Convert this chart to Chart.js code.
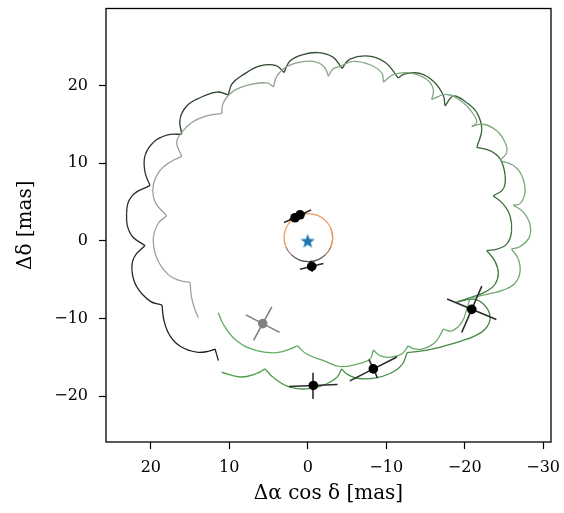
<!DOCTYPE html>
<html>
<head>
<meta charset="utf-8">
<script src="https://cdn.jsdelivr.net/npm/chart.js@4.4.1/dist/chart.umd.min.js"></script>
<style>
  html, body { margin: 0; padding: 0; background: #ffffff; }
  canvas { display: block; }
</style>
</head>
<body>
<canvas id="astro" width="564" height="513"></canvas>
<script>
// Axis tick values (mas)
const xTicks = [20, 10, 0, -10, -20, -30];
const yTicks = [-20, -10, 0, 10, 20];

// Background-track model 1 (dark): one row per parallax arc, cusp to cusp, [Δα cos δ, Δδ] in mas
const darkArcs = [
  [[11.39, -15.41], [11.62, -14.58], [11.81, -13.92]],
  [[11.81, -13.92], [12.58, -14.20], [14.15, -14.33], [16.15, -13.63], [17.55, -12.22], [18.31, -10.31], [18.57, -8.26]],
  [[18.57, -8.26], [20.10, -7.75], [21.76, -5.96], [22.39, -3.92], [22.14, -2.13], [20.74, -0.60]],
  [[20.74, -0.60], [22.52, 0.80], [23.09, 3.49], [22.39, 5.79], [20.10, 7.15]],
  [[20.10, 7.15], [20.74, 8.85], [20.74, 10.98], [19.68, 12.68], [17.97, 13.61], [16.06, 13.74]],
  [[16.06, 13.74], [16.28, 15.66], [15.42, 17.37], [13.73, 18.43], [11.60, 19.16], [10.12, 18.81]],
  [[10.12, 18.81], [9.65, 20.22], [8.25, 21.37], [6.08, 22.52], [4.04, 22.58], [3.02, 21.69]],
  [[3.02, 21.69], [2.26, 23.15], [0.60, 23.98], [-1.31, 24.24], [-3.22, 23.66], [-4.37, 22.20]],
  [[-4.37, 22.20], [-5.39, 23.41], [-7.81, 23.79], [-9.98, 22.90], [-11.51, 20.98]],
  [[-11.51, 20.98], [-12.40, 21.49], [-14.31, 21.56], [-16.10, 20.47], [-17.24, 18.81], [-17.50, 17.37]],
  [[-17.50, 17.37], [-18.56, 18.65], [-20.26, 17.79], [-21.54, 16.51], [-22.18, 14.38], [-21.54, 12.04]],
  [[-21.54, 12.04], [-23.23, 11.62], [-24.51, 10.55], [-25.15, 8.43], [-24.93, 6.72], [-23.65, 5.79]],
  [[-23.65, 5.79], [-24.89, 4.76], [-25.78, 3.23], [-25.97, 1.19], [-25.40, -0.34], [-24.13, -1.05], [-22.81, -1.24]],
  [[-22.81, -1.24], [-23.87, -2.64], [-24.29, -4.18], [-23.87, -5.58], [-22.81, -6.47], [-21.54, -7.02], [-18.99, -7.88]],
  [[-18.99, -7.88], [-21.32, -7.53], [-22.81, -8.61], [-23.23, -10.09], [-22.60, -11.37], [-21.32, -12.22], [-19.63, -12.86], [-17.50, -13.50], [-15.80, -13.92], [-14.31, -14.20], [-12.66, -14.39]],
  [[-12.66, -14.39], [-12.02, -15.93], [-10.49, -17.07], [-8.32, -17.71], [-6.16, -17.65], [-4.88, -17.07], [-4.33, -16.47]],
  [[-4.33, -16.47], [-3.70, -17.59], [-2.42, -18.39], [-0.29, -19.03], [2.26, -18.82], [4.38, -17.59], [5.44, -16.47]],
  [[5.44, -16.47], [6.50, -17.07], [8.63, -17.52], [10.96, -16.91]]
];

// Background-track model 2 (light)
const lightArcs = [
  [[13.94, -9.88], [14.36, -8.90], [14.81, -7.24], [15.00, -5.33]],
  [[15.00, -5.33], [16.28, -5.11], [17.77, -4.34], [19.21, -2.26], [19.68, 0.29], [19.08, 2.21], [17.97, 3.23]],
  [[17.97, 3.23], [19.46, 5.02], [19.68, 7.15], [18.82, 9.07], [17.55, 10.13], [16.06, 10.89]],
  [[16.06, 10.89], [16.70, 12.68], [16.06, 13.96], [14.78, 15.24], [12.87, 16.09], [10.96, 16.42]],
  [[10.96, 16.42], [10.76, 17.79], [9.48, 19.28], [7.35, 20.13], [5.23, 20.34], [4.38, 19.83]],
  [[4.38, 19.83], [3.91, 21.24], [2.64, 22.45], [0.60, 23.09], [-1.31, 22.96], [-2.20, 22.26], [-2.63, 21.20]],
  [[-2.63, 21.20], [-3.22, 22.13], [-4.12, 22.48], [-5.81, 23.12], [-7.94, 22.68], [-9.43, 21.62], [-9.64, 20.43]],
  [[-9.64, 20.43], [-10.91, 21.40], [-13.04, 21.62], [-15.17, 20.77], [-16.01, 19.49], [-15.80, 18.21]],
  [[-15.80, 18.21], [-17.72, 18.85], [-19.83, 17.79], [-21.11, 16.30], [-21.54, 15.24], [-20.90, 14.72]],
  [[-20.90, 14.72], [-22.38, 15.02], [-24.09, 14.18], [-25.15, 12.68], [-25.36, 11.40], [-24.51, 10.34]],
  [[-24.51, 10.34], [-26.20, 9.71], [-27.27, 8.43], [-27.69, 6.30], [-27.06, 4.80], [-26.20, 4.60]],
  [[-26.20, 4.60], [-27.44, 3.74], [-28.33, 2.08], [-28.20, 0.42], [-27.06, -0.73], [-25.97, -1.05]],
  [[-25.97, -1.05], [-26.80, -2.26], [-27.06, -3.92], [-26.42, -5.45], [-24.89, -6.35], [-23.23, -6.79], [-20.69, -7.37]],
  [[-20.69, -7.37], [-20.30, -8.65], [-19.67, -10.43], [-18.39, -11.58], [-17.28, -11.37]],
  [[-17.28, -11.37], [-16.22, -13.08], [-14.53, -13.92], [-13.29, -13.82], [-12.82, -13.50]],
  [[-12.82, -13.50], [-12.02, -14.52], [-10.62, -14.97], [-9.21, -14.78], [-8.36, -14.05]],
  [[-8.36, -14.05], [-7.94, -15.20], [-6.25, -15.86], [-4.12, -16.18], [-1.99, -15.41], [0.13, -14.56], [1.33, -13.50]],
  [[1.33, -13.50], [2.26, -13.92], [3.95, -14.39], [6.50, -14.14], [9.05, -12.86], [10.76, -10.73], [11.39, -9.25]]
];

// Bound orbit around the host star
const orbitRing = [
  [-2.94, -0.77], [-3.18, 0.42], [-2.94, 1.61], [-2.27, 2.61], [-1.27, 3.28], [-0.08, 3.52],
  [1.11, 3.28], [2.11, 2.61], [2.78, 1.61], [3.02, 0.42], [2.78, -0.77], [2.11, -1.77],
  [1.11, -2.44], [-0.08, -2.68], [-1.27, -2.44], [-2.27, -1.77], [-2.94, -0.77], [-3.18, 0.42], [-2.94, 1.61]
];

// Host star
const hostStar = [[0, 0]];

// Measured companion positions and their error-ellipse half axes (mas)
const detections = [[-20.90, -8.81], [-8.36, -16.48], [-0.71, -18.61], [-0.51, -3.28], [1.62, 2.98], [0.98, 3.36]];
const detMajor = [[3.14, 1.32], [3.01, -1.54], [3.09, -0.13], [1.49, -0.36], [1.40, -0.62], [1.40, -0.62]];
const detMinor = [[-1.28, 2.98], [0.55, 1.20], [0.04, 1.63], [0.06, 0.70], [0.12, 0.35], [0.12, 0.35]];

// Earlier epoch, shown in grey
const archival = [[5.74, -10.65]];
const archMajor = [[2.16, 1.13]];
const archMinor = [[-1.16, 2.17]];

// ---- drawing helpers ----
const toPts = rows => rows.map(p => ({ x: p[0], y: p[1] }));
const arcsToPts = arcs => { const out = []; arcs.forEach(a => a.forEach(p => out.push({ x: p[0], y: p[1] }))); return out; };
function errorArms(centers, major, minor) {
  const out = [];
  centers.forEach((c, i) => {
    [major[i], minor[i]].forEach(v => {
      out.push({ x: c[0] - v[0], y: c[1] - v[1] }, { x: c[0] + v[0], y: c[1] + v[1] }, { x: null, y: null });
    });
  });
  return out;
}
function mix(c0, c1, f) {
  return 'rgb(' + c0.map((v, i) => Math.round(v + (c1[i] - v) * f)).join(',') + ')';
}
const darkPts = arcsToPts(darkArcs);
const lightPts = arcsToPts(lightArcs);
const darkFrom = [28, 28, 28], darkTo = [78, 160, 78];
const lightFrom = [160, 160, 160], lightTo = [92, 172, 92];

// Filled five-point star marker
function starMarker(size, color) {
  const c = document.createElement('canvas');
  c.width = size; c.height = size;
  const g = c.getContext('2d');
  const R = size / 2, r = R * 0.42;
  g.fillStyle = color;
  g.beginPath();
  for (let k = 0; k < 10; k++) {
    const rad = k % 2 === 0 ? R : r;
    const a = -Math.PI / 2 + k * Math.PI / 5;
    const px = R + rad * Math.cos(a), py = R + 0.6 + rad * Math.sin(a);
    k === 0 ? g.moveTo(px, py) : g.lineTo(px, py);
  }
  g.closePath();
  g.fill();
  return c;
}

const orbitOrange = 'rgb(240,152,100)', orbitMid = 'rgb(165,120,100)', orbitDark = 'rgb(85,85,85)';
function orbitColor(ctx) {
  const ym = (ctx.p0.parsed.y + ctx.p1.parsed.y) / 2;
  if (ym < -1.9) return orbitDark;
  if (ym < -0.9) return orbitMid;
  return orbitOrange;
}

const frame = {
  id: 'frame',
  afterDatasetsDraw(chart) {
    const { ctx, chartArea: a } = chart;
    ctx.save();
    ctx.strokeStyle = '#000';
    ctx.lineWidth = 1.3;
    ctx.strokeRect(a.left, a.top, a.right - a.left, a.bottom - a.top);
    ctx.restore();
  }
};

// Fixed axis box sizes, no automatic label overhang margins
function fixBox(s, size) {
  if (s.isHorizontal()) s.height = size; else s.width = size;
  s.paddingTop = 0; s.paddingBottom = 0; s.paddingLeft = 0; s.paddingRight = 0;
}

const minusFmt = v => (v < 0 ? '\u2212' + Math.abs(v) : String(v));
const serif = 'DejaVu Serif';

new Chart(document.getElementById('astro'), {
  type: 'scatter',
  data: {
    datasets: [
      {
        data: darkPts, showLine: true, pointRadius: 0, borderWidth: 1.3, tension: 0.42, order: 6,
        borderColor: 'rgb(50,90,50)',
        segment: { borderColor: c => mix(darkFrom, darkTo, c.p0DataIndex / (darkPts.length - 1)) }
      },
      {
        data: lightPts, showLine: true, pointRadius: 0, borderWidth: 1.3, tension: 0.42, order: 5,
        borderColor: 'rgb(130,160,130)',
        segment: { borderColor: c => mix(lightFrom, lightTo, c.p0DataIndex / (lightPts.length - 1)) }
      },
      {
        data: toPts(orbitRing), showLine: true, pointRadius: 0, borderWidth: 1.3, tension: 0.4, order: 4,
        borderColor: orbitOrange, segment: { borderColor: orbitColor }
      },
      {
        data: errorArms(archival, archMajor, archMinor), showLine: true, pointRadius: 0,
        borderWidth: 1.6, borderColor: 'rgb(128,128,128)', order: 3
      },
      {
        data: errorArms(detections, detMajor, detMinor), showLine: true, pointRadius: 0,
        borderWidth: 1.6, borderColor: 'rgb(45,45,45)', order: 3
      },
      {
        data: toPts(archival), pointRadius: 4.8, pointBackgroundColor: 'rgb(128,128,128)',
        pointBorderWidth: 0, order: 2
      },
      {
        data: toPts(detections), pointRadius: 4.8, pointBackgroundColor: '#000',
        pointBorderWidth: 0, order: 2
      },
      {
        data: toPts(hostStar), pointStyle: starMarker(15, '#1f77b4'), pointRadius: 7.5, order: 1
      }
    ]
  },
  options: {
    responsive: false,
    devicePixelRatio: 1,
    animation: false,
    events: [],
    layout: { padding: { top: 5, right: 13, left: 0, bottom: 0 } },
    plugins: { legend: { display: false }, tooltip: { enabled: false } },
    scales: {
      x: {
        type: 'linear', position: 'bottom', reverse: true, min: -31.0, max: 25.71,
        afterBuildTicks: s => { s.ticks = xTicks.map(v => ({ value: v })); },
        afterFit: s => fixBox(s, 71),
        grid: { drawOnChartArea: false, drawTicks: true, tickLength: 7, tickColor: '#000', tickWidth: 1.2 },
        border: { display: false },
        ticks: { callback: minusFmt, color: '#000', padding: 9, maxRotation: 0, autoSkip: false,
                 font: { family: serif, size: 16 } },
        title: { display: true, text: 'Δα cos δ [mas]', color: '#000',
                 font: { family: serif, size: 20 }, padding: { top: 0, bottom: 7 } }
      },
      y: {
        type: 'linear', position: 'left', min: -25.89, max: 29.92,
        afterBuildTicks: s => { s.ticks = yTicks.map(v => ({ value: v })); },
        afterFit: s => fixBox(s, 106),
        grid: { drawOnChartArea: false, drawTicks: true, tickLength: 7, tickColor: '#000', tickWidth: 1.2 },
        border: { display: false },
        ticks: { callback: minusFmt, color: '#000', padding: 11, autoSkip: false,
                 font: { family: serif, size: 16 } },
        title: { display: true, text: 'Δδ [mas]', color: '#000',
                 font: { family: serif, size: 20 }, padding: { top: 14, bottom: 0 } }
      }
    }
  },
  plugins: [frame]
});
</script>
</body>
</html>
